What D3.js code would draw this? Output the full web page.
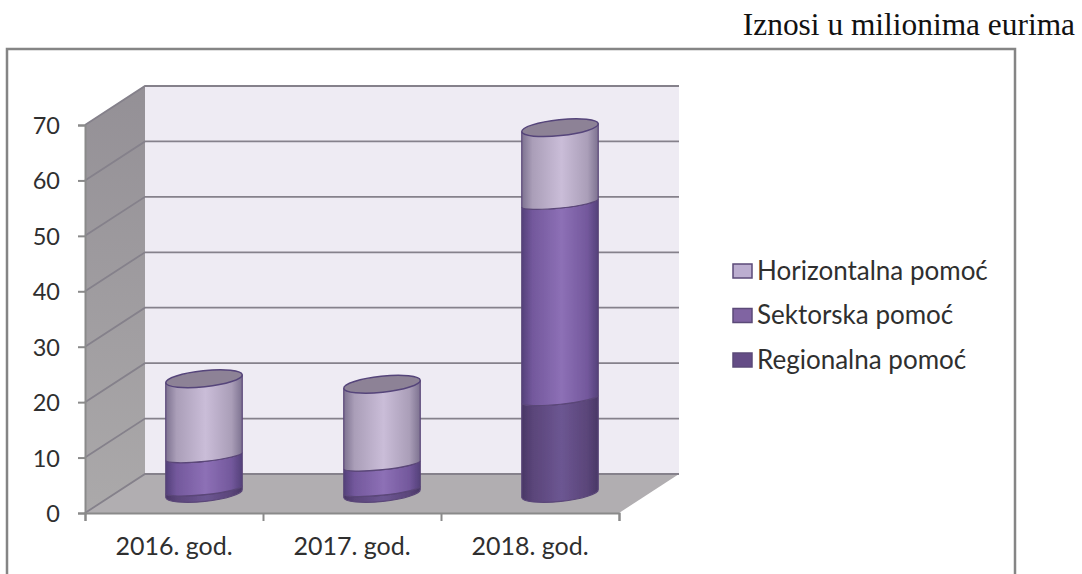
<!DOCTYPE html>
<html>
<head>
<meta charset="utf-8">
<script src="https://cdn.jsdelivr.net/npm/d3@7"></script>
<style>
  html, body { margin: 0; padding: 0; background: #fff; overflow: hidden; }
  text { font-family: Lato, "Open Sans", sans-serif; fill: #2f2f2f; }
</style>
</head>
<body>
<svg width="1082" height="574"></svg>
<script>
// values
const categories = ['2016. god.', '2017. god.', '2018. god.']
const regional = [0.7, 0.6, 17]
const sectoral = [6, 4.6, 35.4]
const horizontal = [14, 14.5, 13.6]
const seriesKeys = ['Regionalna pomoć', 'Sektorska pomoć', 'Horizontalna pomoć']
const yTicks = [0, 10, 20, 30, 40, 50, 60, 70]
const unitLabel = 'Iznosi u milionima eurima'

const svg = d3.select('svg')
const rows = categories.map(function (c, i) {
    return { category: c, 'Regionalna pomoć': regional[i], 'Sektorska pomoć': sectoral[i], 'Horizontalna pomoć': horizontal[i] }
})

// front plane of the 3d box, depth is the shift to the back wall
const plotLeft = 85, plotRight = 619, plotBottom = 513, plotTop = 125
const depthX = 60, depthY = 39
const x = d3.scaleBand().domain(categories).range([plotLeft, plotRight])
const y = d3.scaleLinear().domain([0, 70]).range([plotBottom, plotTop])
const edge = d3.scaleLinear().domain([0, 3]).range([plotLeft, plotRight])

// edge, shoulder, middle colours of each cylinder band
const colors = {
    'Regionalna pomoć': ['#493766', '#5a4579', '#6c5692'],
    'Sektorska pomoć': ['#54407a', '#73589c', '#8d70b6'],
    'Horizontalna pomoć': ['#7d7290', '#aa9eb8', '#cabdd8']
}
const swatches = { 'Regionalna pomoć': '#644c86', 'Sektorska pomoć': '#8064a2', 'Horizontalna pomoć': '#bcaed0' }

const defs = svg.append('defs')
seriesKeys.forEach(function (k, i) {
    const g = defs.append('linearGradient').attr('id', 'grad' + i)
    g.append('stop').attr('offset', '0%').attr('stop-color', colors[k][0])
    g.append('stop').attr('offset', '14%').attr('stop-color', colors[k][1])
    g.append('stop').attr('offset', '52%').attr('stop-color', colors[k][2])
    g.append('stop').attr('offset', '86%').attr('stop-color', colors[k][1])
    g.append('stop').attr('offset', '100%').attr('stop-color', colors[k][0])
})
const sideWall = defs.append('linearGradient').attr('id', 'sideWall').attr('x2', 0).attr('y2', 1)
sideWall.append('stop').attr('offset', '0%').attr('stop-color', '#949096')
sideWall.append('stop').attr('offset', '100%').attr('stop-color', '#aba9aa')
const soft = defs.append('filter').attr('id', 'soft')
soft.append('feGaussianBlur').attr('stdDeviation', 0.6)

// outer frame, runs off the bottom of the picture
svg.append('rect')
   .attr('x', 7).attr('y', 49)
   .attr('width', 1008).attr('height', 560)
   .attr('fill', '#fff')
   .attr('stroke', '#858585')
   .attr('stroke-width', 2.5)

svg.append('text')
   .attr('x', 1075).attr('y', 35)
   .attr('text-anchor', 'end')
   .style('font-family', '"Liberation Serif", serif')
   .style('font-size', '31.4px')
   .style('fill', '#111')
   .text(unitLabel)

const box = svg.append('g').attr('filter', 'url(#soft)')

// walls and floor
box.append('polygon')
   .attr('points', [[plotRight + depthX, y(70) - depthY], [plotLeft + depthX, y(70) - depthY], [plotLeft + depthX, y(0) - depthY], [plotRight + depthX, y(0) - depthY]].join(' '))
   .attr('fill', '#eeebf3')
box.append('polygon')
   .attr('points', [[plotLeft, y(70)], [plotLeft + depthX, y(70) - depthY], [plotLeft + depthX, y(0) - depthY], [plotLeft, y(0)]].join(' '))
   .attr('fill', 'url(#sideWall)')
box.append('polygon')
   .attr('points', [[plotLeft, y(0)], [plotLeft + depthX, y(0) - depthY], [plotRight + depthX, y(0) - depthY], [plotRight, y(0)]].join(' '))
   .attr('fill', '#b1aeb1')

// gridlines go along the side wall and then the back wall
box.selectAll('.grid')
   .data(yTicks)
   .enter()
   .append('polyline')
   .attr('class', 'grid')
   .attr('points', function (d) {
       return [[plotLeft, y(d)], [plotLeft + depthX, y(d) - depthY], [plotRight + depthX, y(d) - depthY]].join(' ')
   })
   .attr('fill', 'none')
   .attr('stroke', '#85818b')
   .attr('stroke-width', 1.8)

// axes
const yAxis = d3.axisLeft(y).tickValues(yTicks).tickSize(7).tickPadding(18)
const yG = svg.append('g').attr('transform', 'translate(' + plotLeft + ',0)').call(yAxis)
yG.select('.domain').attr('stroke', '#8a8a8a').attr('stroke-width', 2)
yG.selectAll('line').attr('stroke', '#8a8a8a').attr('stroke-width', 2)
yG.selectAll('text').style('font-size', '23.5px').attr('dy', '0.36em')

const edgeAxis = d3.axisBottom(edge).ticks(3).tickSize(8).tickFormat('')
const edgeG = svg.append('g').attr('transform', 'translate(0,' + plotBottom + ')').call(edgeAxis)
edgeG.select('.domain').attr('stroke', '#8a8a8a').attr('stroke-width', 2)
edgeG.selectAll('line').attr('stroke', '#8a8a8a').attr('stroke-width', 2)

const xAxis = d3.axisBottom(x).tickSize(0).tickPadding(24)
const xG = svg.append('g').attr('transform', 'translate(0,' + plotBottom + ')').call(xAxis)
xG.select('.domain').remove()
xG.selectAll('text').style('font-size', '25px')

// cylinders
const stacked = d3.stack().keys(seriesKeys)(rows)
const rx = x.step() * 0.216
const lidRy = 8, baseRy = 8, seamRy = 5
const tilt = 6 * Math.PI / 180

function sideX(c, s) { return c + s * rx * Math.cos(tilt) }
function sideY(v, s) { return y(v) - depthY / 2 - s * rx * Math.sin(tilt) }
function arc(ry, sweep, px, py) {
    return 'A' + rx + ',' + ry + ' -6 0 ' + sweep + ' ' + px + ',' + py
}
function center(cat) { return x(cat) + x.bandwidth() / 2 + depthX / 2 }
function segment(c, v0, v1) {
    return 'M' + sideX(c, -1) + ',' + sideY(v1, -1)
        + arc(seamRy, 0, sideX(c, 1), sideY(v1, 1))
        + 'L' + sideX(c, 1) + ',' + sideY(v0, 1)
        + arc(v0 === 0 ? baseRy : seamRy, 1, sideX(c, -1), sideY(v0, -1))
        + 'Z'
}

const bars = box.append('g')
stacked.forEach(function (layer, i) {
    bars.selectAll('.seg' + i)
        .data(layer)
        .enter()
        .append('path')
        .attr('class', 'seg' + i)
        .attr('d', function (d) { return segment(center(d.data.category), d[0], d[1]) })
        .attr('fill', 'url(#grad' + i + ')')
        .attr('stroke', '#5a4678')
        .attr('stroke-width', 1.2)
})

// top lid of each cylinder
bars.selectAll('.lid')
    .data(stacked[2])
    .enter()
    .append('path')
    .attr('class', 'lid')
    .attr('d', function (d) {
        const c = center(d.data.category)
        return 'M' + sideX(c, -1) + ',' + sideY(d[1], -1)
            + arc(lidRy, 0, sideX(c, 1), sideY(d[1], 1))
            + arc(lidRy, 0, sideX(c, -1), sideY(d[1], -1))
            + 'Z'
    })
    .attr('fill', '#8d8296')
    .attr('stroke', '#55447a')
    .attr('stroke-width', 1.5)

// legend, top item is the top of the stack
const legendY = d3.scalePoint().domain(seriesKeys.slice().reverse()).range([271, 360])
const legend = svg.selectAll('.legend')
    .data(seriesKeys)
    .enter()
    .append('g')
    .attr('class', 'legend')
    .attr('transform', function (d) { return 'translate(733,' + legendY(d) + ')' })
legend.append('rect')
    .attr('x', 0).attr('y', -7)
    .attr('width', 19).attr('height', 14)
    .attr('fill', function (d) { return swatches[d] })
    .attr('stroke', '#5b4a78')
    .attr('stroke-width', 1.5)
legend.append('text')
    .attr('x', 24)
    .attr('dy', '0.34em')
    .style('font-size', '26px')
    .text(function (d) { return d })
</script>
</body>
</html>
